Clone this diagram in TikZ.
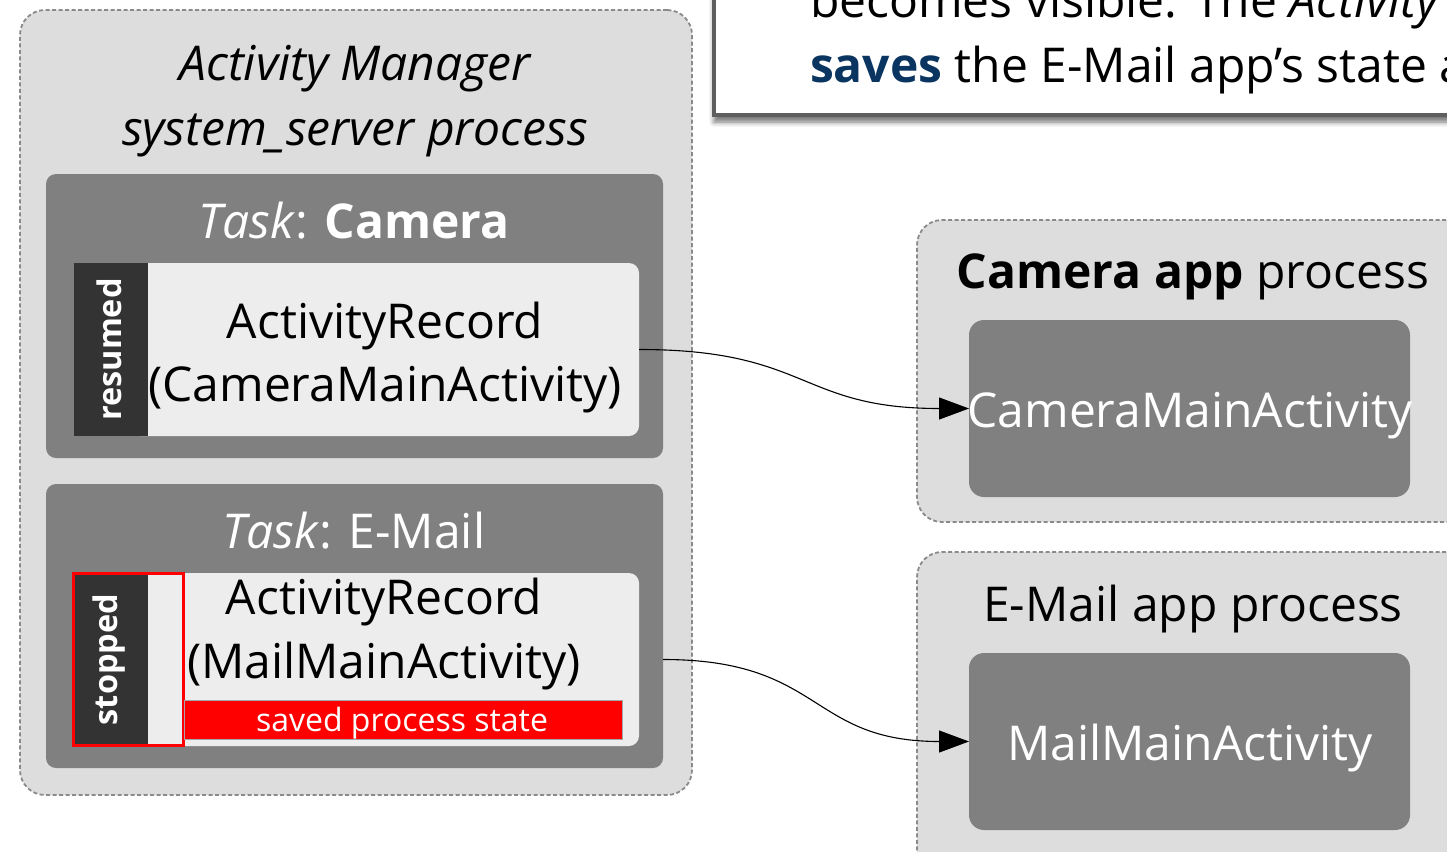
\documentclass[tikz,border=0pt]{standalone}
\usepackage{fontspec}
\setmainfont{Open Sans}
\usetikzlibrary{arrows.meta,shadows.blur}
\definecolor{bggray}{HTML}{DDDDDD}
\definecolor{dashgray}{HTML}{8A8A8A}
\definecolor{taskgray}{HTML}{808080}
\definecolor{recgray}{HTML}{EDEDED}
\definecolor{stdark}{HTML}{333333}
\definecolor{navy}{HTML}{0B3561}
\definecolor{notegray}{HTML}{5E5E5E}
\begin{document}
\begin{tikzpicture}[x=1pt,y=-1pt,
  every node/.style={inner sep=0pt, outer sep=0pt},
  big/.style={font=\fontsize{48}{60}\selectfont},
  bigit/.style={font=\fontsize{48}{60}\selectfont\itshape},
  grp/.style={draw=dashgray, dash pattern=on 4pt off 2.5pt, line width=1.8pt, fill=bggray, rounded corners=25pt},
  taskbox/.style={fill=taskgray, rounded corners=10pt},
  recbox/.style={fill=recgray, rounded corners=10pt},
  statebox/.style={fill=stdark},
  statetext/.style={text=white, font=\fontsize{32.5}{32}\selectfont\bfseries, rotate=90},
  actbox/.style={fill=taskgray, rounded corners=15pt},
  savedbox/.style={fill=red, draw=gray!70, line width=0.8pt},
  notebox/.style={fill=white, draw=notegray, line width=4.5pt,
    blur shadow={shadow xshift=0pt, shadow yshift=-7pt, shadow blur radius=5pt, shadow opacity=55}},
  conn/.style={-{Triangle[length=30pt,width=22pt]}, line width=1.1pt, black}
]
\useasboundingbox (0,0) rectangle (1447,851);
\clip (0,0) rectangle (1447,851);

% callout box (cut off)
\node[notebox, anchor=south west, minimum width=780pt, minimum height=160pt] (note) at (714,115) {};
\node[big, anchor=base west] (note1) at (810,18) {becomes visible. The \textit{Activity}};
\node[big, anchor=base west] (note2) at (810,82) {\textcolor{navy}{\textbf{saves}} the E-Mail app’s state a};

% Activity Manager
\node[grp, anchor=north west, minimum width=672pt, minimum height=785pt] (am) at (20,10) {};
\node[bigit, anchor=base] (amt1) at (355,80) {Activity Manager};
\node[bigit, anchor=base] (amt2) at (355,145) {system\_server process};

% Task Camera
\node[taskbox, anchor=north west, minimum width=617pt, minimum height=284pt] (task1) at (46,174) {};
\node[big, text=white, anchor=base] (task1t) at (354,238) {\textit{Task}: \textbf{Camera}};
\node[recbox, anchor=north west, minimum width=509pt, minimum height=173pt] (rec1) at (130,263) {};
\node[statebox, anchor=north west, minimum width=74pt, minimum height=173pt] (st1) at (74,263) {};
\node[statetext] (st1t) at ([xshift=-2pt]st1.center) {resumed};
\node[big, anchor=base] (rec1a) at (385,338) {ActivityRecord};
\node[big, anchor=base] (rec1b) at (385,401) {(CameraMainActivity)};

% Task E-Mail
\node[taskbox, anchor=north west, minimum width=617pt, minimum height=284pt] (task2) at (46,484) {};
\node[big, text=white, anchor=base] (task2t) at (354,548) {\textit{Task}: E-Mail};
\node[recbox, anchor=north west, minimum width=509pt, minimum height=173pt] (rec2) at (130,573) {};
\node[statebox, anchor=north west, minimum width=74pt, minimum height=173pt] (st2) at (74,573) {};
\node[statetext] (st2t) at ([xshift=-2pt]st2.center) {stopped};
\node[draw=red, line width=3pt, anchor=north west, minimum width=110pt, minimum height=172pt] (stframe) at (73.5,573.5) {};
\node[big, anchor=base] (rec2a) at (384,614) {ActivityRecord};
\node[big, anchor=base] (rec2b) at (384,678) {(MailMainActivity)};
\node[savedbox, anchor=north west, minimum width=438pt, minimum height=39pt] (saved) at (184,700) {};
\node[anchor=base, text=white, font=\fontsize{32}{32}\selectfont] (savedt) at (402,731) {saved process state};

% Camera app process
\node[grp, anchor=north west, minimum width=580pt, minimum height=302pt] (camproc) at (917,220) {};
\node[big, anchor=base] (camproct) at (1193,288) {\textbf{Camera app} process};
\node[actbox, anchor=north west, minimum width=441pt, minimum height=177pt] (camact) at (969,320) {};
\node[big, text=white, anchor=base] (camactt) at (1190,427) {CameraMainActivity};

% E-Mail app process
\node[grp, anchor=north west, minimum width=580pt, minimum height=340pt] (mailproc) at (917,552) {};
\node[big, anchor=base] (mailproct) at (1193,621) {E-Mail app process};
\node[actbox, anchor=north west, minimum width=441pt, minimum height=177pt] (mailact) at (969,653) {};
\node[big, text=white, anchor=base] (mailactt) at (1190,760) {MailMainActivity};

% connectors
\draw[conn] (rec1.east) to[out=0,in=180,looseness=1.3] (camact.west);
\draw[conn] (task2.east |- rec2.east) to[out=0,in=180,looseness=1.3] (mailact.west);
\end{tikzpicture}
\end{document}
